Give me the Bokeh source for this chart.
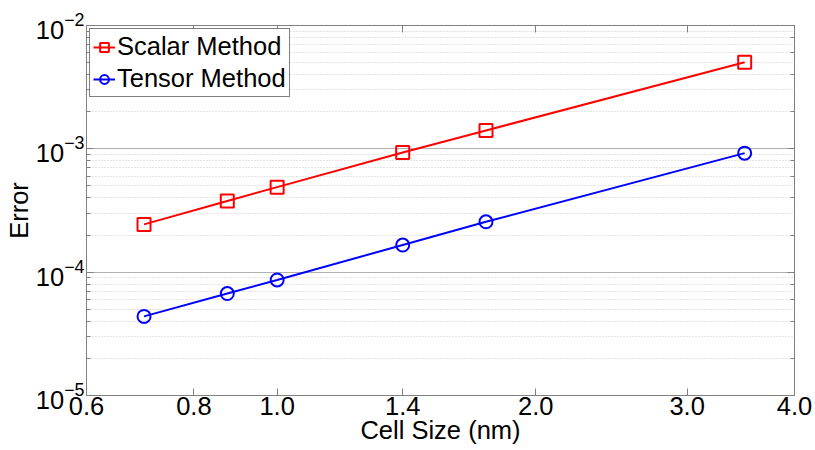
from bokeh.plotting import figure
from bokeh.models import (LogAxis, FixedTicker, LogTicker, PrintfTickFormatter,
                          CustomJSTickFormatter, Legend, LegendItem, Range1d)
from bokeh.embed import file_html
from bokeh.resources import INLINE

# Convergence data: error vs. cell size
cell_size = [0.7, 0.875, 1.0, 1.4, 1.75, 3.5]
scalar_error = [2.44e-4, 3.78e-4, 4.89e-4, 9.33e-4, 1.41e-3, 5.04e-3]
tensor_error = [4.38e-5, 6.71e-5, 8.65e-5, 1.66e-4, 2.56e-4, 9.23e-4]
x_ticks = [0.6, 0.8, 1.0, 1.4, 2.0, 3.0, 4.0]

FONT = "Liberation Sans"
FS = "25.5px"
AXIS_GRAY = "#808080"

p = figure(width=815, height=450, x_axis_type="log", y_axis_type="log",
           x_range=Range1d(0.6, 4.0), y_range=Range1d(1e-5, 1e-2),
           output_backend="svg", toolbar_location=None,
           min_border_left=86, min_border_right=21,
           min_border_top=25, min_border_bottom=55)
p.outline_line_color = AXIS_GRAY
p.background_fill_color = "white"
p.border_fill_color = "white"

# grid: solid decades, dotted minor lines, no vertical lines
p.xgrid.visible = False
p.ygrid.grid_line_color = "#b0b0b0"
p.ygrid.grid_line_width = 1
p.ygrid.minor_grid_line_color = "#c8c8c8"
p.ygrid.minor_grid_line_dash = "1 2"

def style_axis(ax):
    ax.axis_line_color = AXIS_GRAY
    ax.major_tick_line_color = AXIS_GRAY
    ax.minor_tick_line_color = AXIS_GRAY
    ax.major_tick_in = 7
    ax.major_tick_out = 0
    ax.minor_tick_in = 4
    ax.minor_tick_out = 0
    ax.major_label_text_font = FONT
    ax.major_label_text_font_size = FS
    ax.major_label_text_color = "black"
    ax.axis_label_text_font = FONT
    ax.axis_label_text_font_size = FS
    ax.axis_label_text_font_style = "normal"
    ax.axis_label_text_color = "black"

xb = p.xaxis[0]
xb.ticker = FixedTicker(ticks=x_ticks)
xb.formatter = PrintfTickFormatter(format="%.1f")
xb.axis_label = "Cell Size (nm)"
style_axis(xb)
xb.major_label_standoff = 1
xb.axis_label_standoff = -2
xb.minor_tick_in = 0

yl = p.yaxis[0]
yl.axis_label = "Error"
style_axis(yl)
yl.major_label_standoff = 2
yl.axis_label_standoff = 0

# mirrored tick marks on the top and right edges, without labels
blank = CustomJSTickFormatter(code="return ''")
xt = LogAxis(ticker=FixedTicker(ticks=x_ticks), formatter=blank)
style_axis(xt)
xt.minor_tick_in = 0
xt.major_label_standoff = 0
p.add_layout(xt, "above")
yr = LogAxis(ticker=LogTicker(), formatter=blank)
style_axis(yr)
yr.major_label_standoff = 0
p.add_layout(yr, "right")

RED = "#ff0000"
BLUE = "#0000ff"
l1 = p.line(cell_size, scalar_error, line_color=RED, line_width=2)
m1 = p.scatter(cell_size, scalar_error, marker="square", size=13,
               line_color=RED, line_width=2, fill_color=None)
l2 = p.line(cell_size, tensor_error, line_color=BLUE, line_width=2)
m2 = p.scatter(cell_size, tensor_error, marker="circle", size=13,
               line_color=BLUE, line_width=2, fill_color=None)

legend = Legend(items=[LegendItem(label="Scalar Method", renderers=[l1, m1]),
                       LegendItem(label="Tensor Method", renderers=[l2, m2])],
                location="top_left")
legend.label_text_font = FONT
legend.label_text_font_size = FS
legend.label_text_color = "black"
legend.label_standoff = 2
legend.glyph_width = 22
legend.glyph_height = 26
legend.label_height = 26
legend.spacing = 3
legend.padding = 3
legend.margin = 3
legend.border_line_color = "black"
legend.border_line_width = 1
legend.background_fill_color = "white"
legend.background_fill_alpha = 1.0
p.add_layout(legend)

open("out.html", "w").write(file_html(p, INLINE))
